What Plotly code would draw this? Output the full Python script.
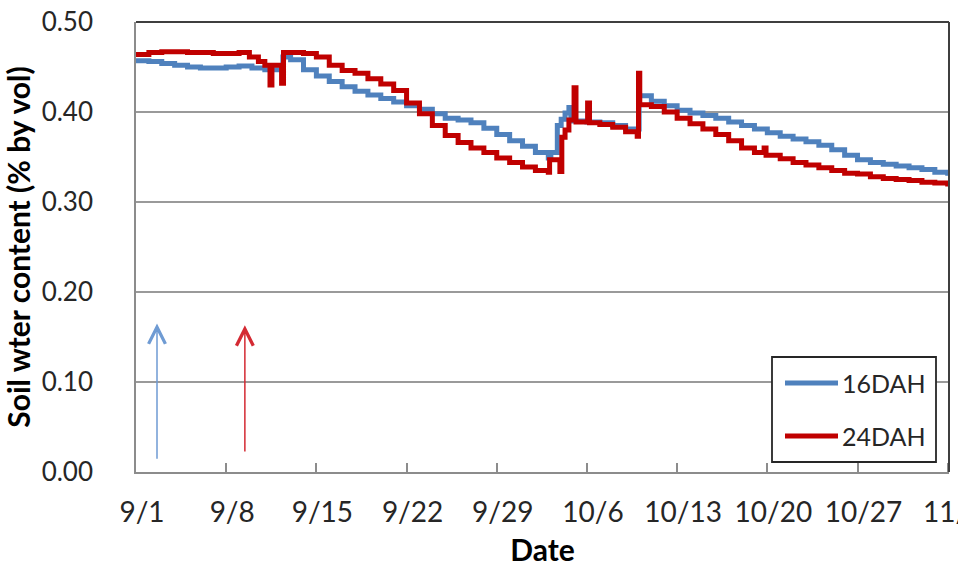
import pandas as pd
import plotly.graph_objects as go

# ---------------- data ----------------
start_date = "2014-09-01"

# 16DAH : day offset from 9/1, soil water content (% by vol)
blue_days = [0, 1, 2, 3, 4, 5, 6, 7, 8, 9, 10, 11.4, 12, 13, 14, 15, 16, 17, 18, 19,
             20, 21, 22, 23, 24, 25, 26, 27, 28, 29, 30, 31, 32, 32.2, 32.7, 33.0, 33.3,
             33.6, 33.75, 35, 36, 37, 38, 39.05, 40, 41, 42, 43, 44, 45, 46, 47, 48, 49,
             50, 51, 52, 53, 54, 55, 56, 57, 58, 59, 60, 61, 62, 63, 63.1]
blue_vals = [0.457, 0.456, 0.454, 0.452, 0.450, 0.449, 0.449, 0.450, 0.451, 0.449,
             0.447, 0.461, 0.458, 0.447, 0.440, 0.434, 0.428, 0.423, 0.419, 0.415,
             0.411, 0.407, 0.403, 0.398, 0.393, 0.391, 0.388, 0.382, 0.375, 0.368,
             0.362, 0.355, 0.349, 0.355, 0.385, 0.392, 0.399, 0.405, 0.390, 0.389,
             0.388, 0.385, 0.381, 0.418, 0.412, 0.407, 0.402, 0.399, 0.396, 0.393,
             0.389, 0.385, 0.381, 0.377, 0.373, 0.370, 0.367, 0.363, 0.358, 0.352,
             0.347, 0.344, 0.342, 0.340, 0.338, 0.336, 0.333, 0.332, 0.332]

# 24DAH
red_days = [0, 1, 2, 3, 4, 5, 6, 7, 8, 8.8, 9.5, 10, 10.4, 10.55, 11.3, 11.45, 12, 13,
            14, 15, 16, 17, 18, 19, 20, 21, 22, 23, 24, 25, 26, 27, 28, 29, 30, 31, 32,
            32.1, 32.9, 33.05, 33.3, 33.6, 34.0, 34.15, 35.05, 35.2, 36, 37, 38, 38.9,
            39.0, 39.1, 40, 41, 42, 43, 44, 45, 46, 47, 48, 48.75, 48.9, 50, 51, 52,
            53, 54, 55, 56, 57, 58, 59, 60, 61, 62, 63, 63.1]
red_vals = [0.464, 0.466, 0.467, 0.467, 0.466, 0.466, 0.465, 0.465, 0.466, 0.461,
            0.456, 0.452, 0.430, 0.452, 0.432, 0.466, 0.466, 0.465, 0.461, 0.452,
            0.446, 0.443, 0.437, 0.431, 0.424, 0.410, 0.398, 0.385, 0.374, 0.366,
            0.360, 0.355, 0.349, 0.344, 0.339, 0.335, 0.333, 0.347, 0.334, 0.372,
            0.380, 0.391, 0.427, 0.389, 0.410, 0.388, 0.386, 0.383, 0.378, 0.373,
            0.443, 0.408, 0.406, 0.400, 0.393, 0.387, 0.381, 0.375, 0.368, 0.360,
            0.355, 0.360, 0.352, 0.348, 0.344, 0.341, 0.338, 0.335, 0.332, 0.331,
            0.328, 0.326, 0.325, 0.324, 0.322, 0.321, 0.320, 0.320]

series_names = ["16DAH", "24DAH"]
series_colors = ["#4F81BD", "#C00000"]

tick_labels = ["9/1", "9/8", "9/15", "9/22", "9/29", "10/6", "10/13", "10/20", "10/27", "11/3"]
tick_days = [0, 7, 14, 21, 28, 35, 42, 49, 56, 63]

# arrows: day offset, bottom value, top value
arrow_days = [1.63, 8.45]
arrow_bottom = [0.013, 0.021]
arrow_top = [0.165, 0.163]
arrow_colors = ["#6F9BD3", "#D42A33"]

x_end_day = 63.1

# ---------------- figure ----------------
base = pd.Timestamp(start_date)


def to_dates(days):
    return [base + pd.Timedelta(days=d) for d in days]


FONT = "Lato"
TXT = "#262626"

fig = go.Figure()
for name, color, d, v in [(series_names[0], series_colors[0], blue_days, blue_vals),
                          (series_names[1], series_colors[1], red_days, red_vals)]:
    fig.add_trace(go.Scatter(x=to_dates(d), y=v, mode="lines", name=name,
                             line=dict(color=color, width=5, shape="hv"),
                             showlegend=False))

L, R, T, B = 136, 9, 22, 95
W, H = 958, 567
pw, ph = W - L - R, H - T - B


def px2paper(xp, yp):
    return (xp - L) / pw, (H - B - yp) / ph


fig.update_layout(
    width=W, height=H,
    margin=dict(l=L, r=R, t=T, b=B),
    paper_bgcolor="white", plot_bgcolor="white",
    font=dict(family=FONT, size=25, color=TXT),
    showlegend=False,
)

fig.update_xaxes(
    type="date", automargin=False,
    range=[base, base + pd.Timedelta(days=x_end_day)],
    tickmode="array",
    tickvals=to_dates(tick_days),
    ticktext=tick_labels,
    ticks="inside", ticklen=9, tickwidth=1.5, tickcolor="#8C8C8C",
    showline=True, linecolor="#8C8C8C", linewidth=1.5,
    showgrid=False, zeroline=False,
    tickfont=dict(family=FONT, size=28, color=TXT),
    ticklabelstandoff=15, ticklabelshift=6, ticklabeloverflow="allow",
    title=dict(text="<b>Date</b>", font=dict(family=FONT, size=30, color="black"), standoff=20),
)
fig.update_yaxes(
    range=[0, 0.5], dtick=0.1, tickformat=".2f", automargin=False,
    showline=True, linecolor="#8C8C8C", linewidth=1.5,
    showgrid=True, gridcolor="#9A9A9A", gridwidth=1.5,
    zeroline=False, ticks="",
    tickfont=dict(family=FONT, size=26, color=TXT),
    ticklabelstandoff=36,
    title=dict(text="<b>Soil wter content (% by vol)</b>",
               font=dict(family=FONT, size=30, color="black"), standoff=4),
)

shapes = []
# top and right frame
shapes.append(dict(type="line", xref="paper", yref="paper", x0=0, x1=1, y0=1, y1=1,
                   line=dict(color="#3F3F3F", width=2)))
shapes.append(dict(type="line", xref="paper", yref="paper", x0=1, x1=1, y0=0, y1=1,
                   line=dict(color="#3F3F3F", width=2)))

# legend box
bx0, by0 = px2paper(772, 357)
bx1, by1 = px2paper(936, 462)
shapes.append(dict(type="rect", xref="paper", yref="paper", x0=bx0, x1=bx1, y0=by1, y1=by0,
                   line=dict(color="#262626", width=1.8), fillcolor="white", layer="above"))
annotations = []
for i, (name, color) in enumerate(zip(series_names, series_colors)):
    ly = 383 + i * 53
    lx0, lyp = px2paper(785, ly)
    lx1, _ = px2paper(838, ly)
    shapes.append(dict(type="line", xref="paper", yref="paper", x0=lx0, x1=lx1, y0=lyp, y1=lyp,
                       line=dict(color=color, width=5), layer="above"))
    tx, _ = px2paper(840, ly)
    annotations.append(dict(xref="paper", yref="paper", x=tx, y=lyp, text=name,
                            showarrow=False, xanchor="left", yanchor="middle",
                            font=dict(family=FONT, size=25, color=TXT)))

# arrows
for d, yb, yt, c in zip(arrow_days, arrow_bottom, arrow_top, arrow_colors):
    xd = base + pd.Timedelta(days=d)
    annotations.append(dict(x=xd, y=yt, ax=xd, ay=yb, xref="x", yref="y", axref="x", ayref="y",
                            showarrow=True, arrowhead=5, arrowsize=2.2, arrowwidth=1.5,
                            arrowcolor=c, text=""))

fig.update_layout(shapes=shapes, annotations=annotations)
fig.write_html("out.html", config={"displayModeBar": False},
               post_script="document.body.style.margin='0';document.body.style.overflow='hidden';")
